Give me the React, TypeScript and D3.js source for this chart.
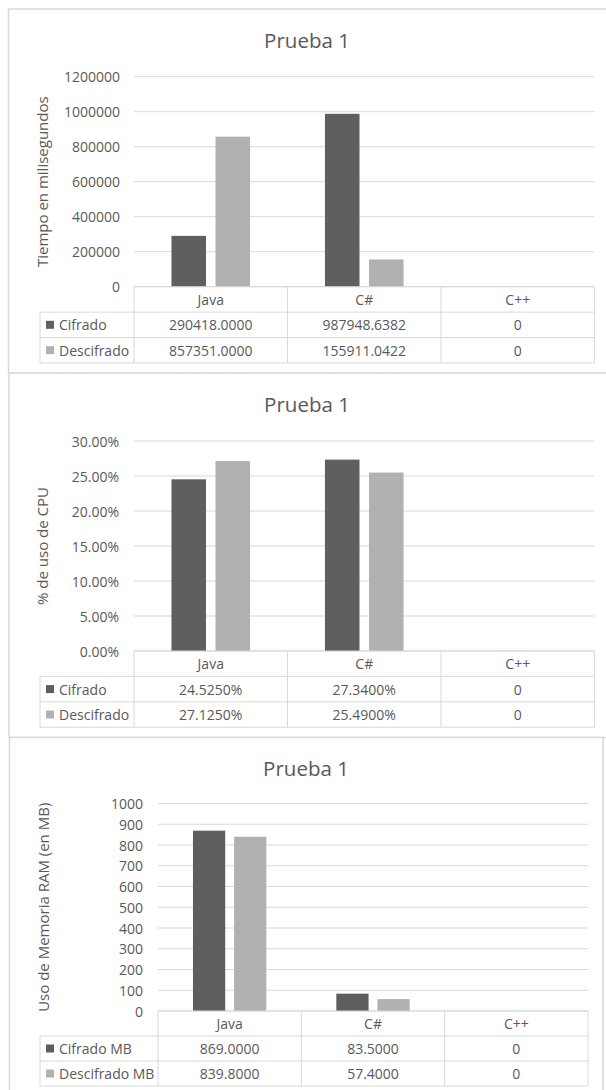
import React from "react";
import * as d3 from "d3";

const categories = ["Java", "C#", "C++"];

const timeSeriesNames = ["Cifrado", "Descifrado"];
const timeCifrado = [290418.0, 987948.6382, 0];
const timeDescifrado = [857351.0, 155911.0422, 0];
const timeTicks = [0, 200000, 400000, 600000, 800000, 1000000, 1200000];

const cpuSeriesNames = ["Cifrado", "Descifrado"];
const cpuCifrado = [24.525, 27.34, 0];
const cpuDescifrado = [27.125, 25.49, 0];
const cpuTicks = [0, 5, 10, 15, 20, 25, 30];

const ramSeriesNames = ["Cifrado MB", "Descifrado MB"];
const ramCifrado = [869.0, 83.5, 0];
const ramDescifrado = [839.8, 57.4, 0];
const ramTicks = [0, 100, 200, 300, 400, 500, 600, 700, 800, 900, 1000];

const COLORS = ["#5f5f5f", "#b1b1b1"];
const TEXT = "#595959";
const LINE = "#d9d9d9";
const FONT = "'Open Sans', 'Noto Sans', sans-serif";

type ChartProps = {
  panel: { x0: number; x1: number; y0: number; y1: number };
  title: string;
  titleX: number;
  titleY: number;
  yTitle: string;
  yTitleX: number;
  plot: { x0: number; x1: number; yTop: number; yBottom: number };
  labelRight: number;
  legendX0: number;
  rowH: number;
  ticks: number[];
  tickFmt: (v: number) => string;
  cellFmt: (v: number) => string;
  names: string[];
  series: number[][];
};

function Chart(p: ChartProps) {
  const { plot } = p;
  const x = d3.scaleBand<string>().domain(categories).range([plot.x0, plot.x1]).paddingInner(0).paddingOuter(0);
  const bw = x.bandwidth();
  const y = d3
    .scaleLinear()
    .domain([p.ticks[0], p.ticks[p.ticks.length - 1]])
    .range([plot.yBottom, plot.yTop]);
  const barW = 0.225 * bw;
  const gap = 0.062 * bw;
  const groupW = barW * p.series.length + gap * (p.series.length - 1);
  const off = (bw - groupW) / 2;
  const rows = [plot.yBottom, plot.yBottom + p.rowH, plot.yBottom + 2 * p.rowH, plot.yBottom + 3 * p.rowH];
  const tableBottom = rows[3];
  const yMid = (plot.yTop + plot.yBottom) / 2;
  return (
    <g>
      <rect
        x={p.panel.x0}
        y={p.panel.y0}
        width={p.panel.x1 - p.panel.x0}
        height={p.panel.y1 - p.panel.y0}
        fill="#fff"
        stroke={LINE}
        strokeWidth={1.5}
      />
      <text x={p.titleX} y={p.titleY} textAnchor="middle" fontSize={20.5} fill={TEXT} fontFamily={FONT}>
        {p.title}
      </text>
      <text
        transform={`translate(${p.yTitleX},${yMid}) rotate(-90)`}
        textAnchor="middle"
        dominantBaseline="central"
        fontSize={15}
        fill={TEXT}
        fontFamily={FONT}
      >
        {p.yTitle}
      </text>
      {p.ticks.map((t) => (
        <g key={t}>
          <line x1={plot.x0} x2={plot.x1} y1={y(t)} y2={y(t)} stroke={LINE} strokeWidth={1} />
          <text
            x={p.labelRight}
            y={y(t)}
            textAnchor="end"
            dominantBaseline="central"
            fontSize={14}
            fill={TEXT}
            fontFamily={FONT}
          >
            {p.tickFmt(t)}
          </text>
        </g>
      ))}
      {p.series.map((vals, si) =>
        vals.map((v, ci) => {
          const bx = (x(categories[ci]) as number) + off + si * (barW + gap);
          return (
            <rect
              key={`${si}-${ci}`}
              x={bx}
              y={y(v)}
              width={barW}
              height={plot.yBottom - y(v)}
              fill={COLORS[si]}
            />
          );
        })
      )}
      {/* table */}
      <g stroke={LINE} strokeWidth={1} fill="none">
        <line x1={plot.x0} x2={plot.x1} y1={rows[0]} y2={rows[0]} />
        {[1, 2, 3].map((r) => (
          <line key={r} x1={p.legendX0} x2={plot.x1} y1={rows[r]} y2={rows[r]} />
        ))}
        <line x1={p.legendX0} x2={p.legendX0} y1={rows[1]} y2={tableBottom} />
        {categories.map((c) => (
          <line key={c} x1={x(c)} x2={x(c)} y1={rows[0]} y2={tableBottom} />
        ))}
        <line x1={plot.x1} x2={plot.x1} y1={rows[0]} y2={tableBottom} />
      </g>
      {categories.map((c) => (
        <text
          key={c}
          x={(x(c) as number) + bw / 2}
          y={(rows[0] + rows[1]) / 2}
          textAnchor="middle"
          dominantBaseline="central"
          fontSize={14}
          fill={TEXT}
          fontFamily={FONT}
        >
          {c}
        </text>
      ))}
      {p.series.map((vals, si) => {
        const cy = (rows[si + 1] + rows[si + 2]) / 2;
        return (
          <g key={si}>
            <rect x={p.legendX0 + 6} y={cy - 4} width={8} height={8} fill={COLORS[si]} />
            <text
              x={p.legendX0 + 19}
              y={cy}
              dominantBaseline="central"
              fontSize={14}
              fill={TEXT}
              fontFamily={FONT}
            >
              {p.names[si]}
            </text>
            {vals.map((v, ci) => (
              <text
                key={ci}
                x={(x(categories[ci]) as number) + bw / 2}
                y={cy}
                textAnchor="middle"
                dominantBaseline="central"
                fontSize={14}
                fill={TEXT}
                fontFamily={FONT}
              >
                {p.cellFmt(v)}
              </text>
            ))}
          </g>
        );
      })}
    </g>
  );
}

const fmt4 = (v: number) => (v === 0 ? "0" : v.toFixed(4));
const fmtPct4 = (v: number) => (v === 0 ? "0" : v.toFixed(4) + "%");
const fmtInt = d3.format("d");
const fmtPct2 = (v: number) => v.toFixed(2) + "%";

export default function App() {
  return (
    <svg
      width={606}
      height={1090}
      style={{ position: "absolute", left: 0, top: 0, background: "#fff" }}
    >
      <rect x={0} y={0} width={606} height={1090} fill="#fff" />
      <Chart
        panel={{ x0: 8.5, x1: 620, y0: 9, y1: 373 }}
        title="Prueba 1"
        titleX={307}
        titleY={48}
        yTitle="Tiempo en milisegundos"
        yTitleX={42}
        plot={{ x0: 134, x1: 594.5, yTop: 76.7, yBottom: 286.7 }}
        labelRight={120}
        legendX0={40}
        rowH={25.4}
        ticks={timeTicks}
        tickFmt={(v) => fmtInt(v)}
        cellFmt={fmt4}
        names={timeSeriesNames}
        series={[timeCifrado, timeDescifrado]}
      />
      <Chart
        panel={{ x0: 9, x1: 620, y0: 373, y1: 737.5 }}
        title="Prueba 1"
        titleX={307}
        titleY={412}
        yTitle="% de uso de CPU"
        yTitleX={42}
        plot={{ x0: 134, x1: 594.5, yTop: 441, yBottom: 651 }}
        labelRight={119}
        legendX0={40}
        rowH={25.4}
        ticks={cpuTicks}
        tickFmt={fmtPct2}
        cellFmt={fmtPct4}
        names={cpuSeriesNames}
        series={[cpuCifrado, cpuDescifrado]}
      />
      <Chart
        panel={{ x0: 9.5, x1: 603, y0: 737.5, y1: 1110 }}
        title="Prueba 1"
        titleX={306}
        titleY={776}
        yTitle="Uso de Memoria RAM (en MB)"
        yTitleX={43}
        plot={{ x0: 158, x1: 588, yTop: 803.5, yBottom: 1011 }}
        labelRight={143}
        legendX0={40}
        rowH={25}
        ticks={ramTicks}
        tickFmt={(v) => fmtInt(v)}
        cellFmt={fmt4}
        names={ramSeriesNames}
        series={[ramCifrado, ramDescifrado]}
      />
    </svg>
  );
}
